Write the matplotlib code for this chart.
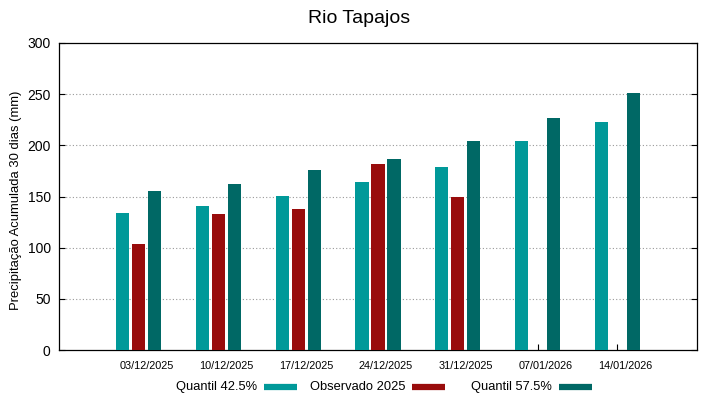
import matplotlib.pyplot as plt
from matplotlib.lines import Line2D
import numpy as np

plt.rcParams['font.family'] = ['Liberation Sans', 'DejaVu Sans']

datas = ["03/12/2025", "10/12/2025", "17/12/2025", "24/12/2025",
         "31/12/2025", "07/01/2026", "14/01/2026"]
q425 = [134, 141, 150.5, 164, 179, 204, 223]
obs2025 = [104, 133, 138, 182, 149.5, None, None]
q575 = [155.5, 162, 176, 186.5, 204.5, 227, 251]
legendas = ["Quantil 42.5%", "Observado 2025", "Quantil 57.5%"]

cor_q425 = "#009999"
cor_obs = "#990c0c"
cor_q575 = "#006865"

W, H = 719, 399
fig = plt.figure(figsize=(W / 100, H / 100), dpi=100)
ax = fig.add_axes([59 / W, 1 - 350 / H, 638 / W, 307 / H])

x = np.arange(1, len(datas) + 1)
w = 0.165
ax.bar(x - 0.2, q425, w, color=cor_q425, zorder=3)
obs_x = [xi for xi, v in zip(x, obs2025) if v is not None]
obs_v = [v for v in obs2025 if v is not None]
ax.bar(obs_x, obs_v, w, color=cor_obs, zorder=3)
ax.bar(x + 0.2, q575, w, color=cor_q575, zorder=3)

ax.set_xlim(0, 8)
ax.set_ylim(0, 300)
ax.set_yticks([0, 50, 100, 150, 200, 250, 300])
# tick marks at group centres, labels slightly to the right (gnuplot style)
ax.set_xticks(x)
ax.set_xticklabels([])
ax.set_xticks(x + 0.1, minor=True)
ax.set_xticklabels(datas, minor=True, fontsize=7.8)
ax.tick_params(axis='x', which='major', direction='in', length=4, width=0.8)
ax.tick_params(axis='x', which='minor', length=0, pad=8)
ax.tick_params(axis='y', direction='in', length=4, labelsize=10, pad=6, width=0.8,
               right=True)

for v in [50, 100, 150, 200, 250]:
    ax.axhline(v, color='#999999', linestyle=(0, (1, 2)), linewidth=0.8, zorder=1)

for s in ax.spines.values():
    s.set_linewidth(0.9)

fig.text(16 / W, 1 - 200 / H, "Precipitação Acumulada 30 dias (mm)",
         rotation=90, ha='center', va='center', fontsize=9.4)
fig.suptitle("Rio Tapajos", fontsize=14, y=0.975)

# legend below the plot: text followed by the colour sample
cores = [cor_q425, cor_obs, cor_q575]
fim_texto = [257, 405, 552]
ly = 1 - 387 / H
for txt, cor, xe in zip(legendas, cores, fim_texto):
    fig.text(xe / W, ly, txt, ha='right', va='center', fontsize=9.3)
    fig.add_artist(Line2D([(xe + 7) / W, (xe + 40) / W], [ly, ly],
                          color=cor, lw=4.5, solid_capstyle='butt'))

plt.savefig("out.png", dpi=100)
